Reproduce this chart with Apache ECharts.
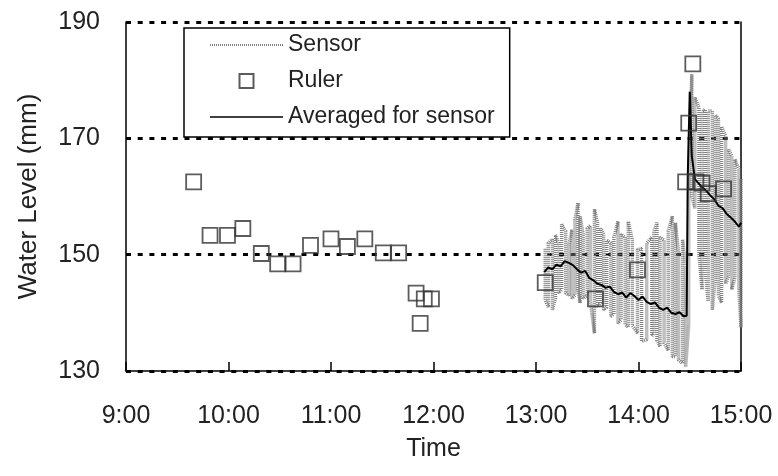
<!DOCTYPE html>
<html>
<head>
<meta charset="utf-8">
<script src="https://cdn.jsdelivr.net/npm/echarts@6/dist/echarts.min.js"></script>
<style>
  html, body { margin: 0; padding: 0; background: #fff; }
  #chart { width: 778px; height: 476px; }
</style>
</head>
<body>
<div id="chart"></div>
<script>
// time in hours (9.5 = 9:30)
var xTicks = [9, 10, 11, 12, 13, 14, 15];
var yTicks = [130, 150, 170, 190];

// ruler readings
var rulerTime = [9.66, 9.82, 9.99, 10.14, 10.32, 10.48, 10.63, 10.80, 11.00, 11.16, 11.33, 11.51, 11.66, 11.83, 11.87, 11.91, 11.98,
  13.09, 13.58, 13.99, 14.46, 14.49, 14.53, 14.56, 14.62, 14.68, 14.83];
var rulerLevel = [162.5, 153.3, 153.3, 154.5, 150.2, 148.4, 148.4, 151.6, 152.7, 151.4, 152.7, 150.3, 150.3, 143.4, 138.2, 142.4, 142.4,
  145.2, 142.4, 147.4, 162.5, 172.6, 182.8, 162.5, 162.3, 160.5, 161.3];

// raw sensor, high / low of each swing
var sensorTime = [13.09, 13.12, 13.16, 13.19, 13.22, 13.25, 13.29, 13.32, 13.35, 13.38, 13.41, 13.43, 13.46, 13.50, 13.53,
  13.57, 13.60, 13.63, 13.66, 13.69, 13.73, 13.76, 13.80, 13.83, 13.87, 13.90, 13.94, 13.99, 14.03, 14.08,
  14.13, 14.15, 14.18, 14.21, 14.25, 14.29, 14.33, 14.36, 14.39, 14.43, 14.46, 14.49, 14.52, 14.55, 14.59,
  14.62, 14.65, 14.68, 14.72, 14.75, 14.78, 14.81, 14.85, 14.88, 14.91, 14.94, 14.98, 15.00];
var sensorHigh = [151, 152, 152.6, 153.4, 152, 155.2, 154, 151.5, 154.3, 156, 158.9, 156.6, 153.5, 154.5, 155,
  157.8, 155.5, 154.5, 153.5, 152.5, 152, 153, 155.7, 153.5, 153, 155.7, 152.5, 150.9, 151, 152,
  153, 154, 155.5, 153, 152.5, 154, 156.6, 155.5, 150.5, 152.6, 148, 165, 181, 177, 175.3,
  174.5, 175, 174.7, 174.7, 174, 173.3, 172, 170.4, 168.1, 167, 166.4, 164.7, 163];
var sensorLow = [142.2, 141, 140.5, 142.5, 143.4, 144, 143.4, 143, 142.5, 143, 144, 141.7, 142.5, 143, 142,
  136.5, 141, 141.7, 140.5, 141, 139.4, 139.8, 138.2, 138.8, 138, 137.5, 137.8, 136.5, 135.1, 135.4,
  136, 136.5, 135.3, 134.2, 134.8, 133.5, 132.5, 132.5, 131.9, 131.3, 130.7, 138, 160, 158, 150,
  144, 147.4, 142, 140.5, 146, 143, 141.7, 145, 146.3, 144, 146, 144, 137.5];

// averaged sensor
var avgTime = [13.08, 13.12, 13.16, 13.20, 13.24, 13.28, 13.32, 13.36, 13.40, 13.44, 13.48, 13.52, 13.56, 13.60, 13.64,
  13.68, 13.72, 13.76, 13.80, 13.84, 13.88, 13.92, 13.96, 14.00, 14.04, 14.08, 14.12, 14.16, 14.20, 14.24,
  14.28, 14.32, 14.36, 14.40, 14.44, 14.47, 14.48, 14.50, 14.52, 14.55, 14.58, 14.62, 14.66, 14.70, 14.74,
  14.78, 14.82, 14.86, 14.90, 14.94, 14.98, 15.00];
var avgLevel = [147.0, 147.8, 147.5, 148.3, 148.0, 148.9, 148.6, 148.2, 147.5, 146.9, 147.2, 146.0, 145.6, 145.0, 144.8,
  144.3, 144.5, 143.6, 143.2, 143.5, 142.6, 143.4, 142.9, 142.2, 142.8, 141.9, 141.5, 141.8, 140.9, 140.5,
  140.9, 140.0, 139.8, 140.1, 139.4, 139.5, 163.0, 178.0, 167.0, 163.0, 162.4, 161.6, 161.0, 160.2, 159.5,
  158.4, 158.0, 157.0, 156.4, 155.7, 154.8, 155.5];

var FONT = "'Liberation Sans', Arial, sans-serif";

// zigzag between high and low so each swing is a vertical stroke
var sensorData = [];
for (var i = 0; i < sensorTime.length; i++) {
  if (i % 2 == 0) {
    sensorData.push([sensorTime[i], sensorHigh[i]]);
    sensorData.push([sensorTime[i], sensorLow[i]]);
  } else {
    sensorData.push([sensorTime[i], sensorLow[i]]);
    sensorData.push([sensorTime[i], sensorHigh[i]]);
  }
}
var rulerData = rulerTime.map(function (t, i) { return [t, rulerLevel[i]]; });
var avgData = avgTime.map(function (t, i) { return [t, avgLevel[i]]; });

// legend icons: dotted line, square, solid line
var dotIcon = 'path://';
for (var k = 0; k < 73; k += 2) {
  dotIcon += 'M' + k + ',0h1v1.5h-1z';
}
var squareIcon = 'path://M0,0h1v1h-1z';
var lineIcon = 'path://M0,0h73v1.3h-73z';

var chart = echarts.init(document.getElementById('chart'));
var option = {
  animation: false,
  backgroundColor: '#fff',
  grid: { left: 126, right: 37, top: 22, bottom: 105 },
  legend: {
    orient: 'vertical',
    left: 184,
    top: 28,
    data: [
      { name: 'Sensor', icon: dotIcon, itemStyle: { color: '#555', borderWidth: 0 } },
      { name: 'Ruler', icon: squareIcon },
      { name: 'Averaged for sensor', icon: lineIcon, itemStyle: { color: '#000', borderWidth: 0 } }
    ],
    symbolKeepAspect: true,
    backgroundColor: '#fff',
    borderColor: '#000',
    borderWidth: 1.5,
    borderRadius: 0,
    padding: [4, 15, 7, 26],
    itemWidth: 73,
    itemHeight: 14,
    itemGap: 10,
    textStyle: { fontFamily: FONT, fontSize: 23, lineHeight: 26, color: '#222' }
  },
  xAxis: {
    type: 'value',
    min: xTicks[0],
    max: xTicks[xTicks.length - 1],
    interval: 1,
    name: 'Time',
    nameLocation: 'middle',
    nameGap: 66,
    nameTextStyle: { fontFamily: FONT, fontSize: 25, color: '#222' },
    axisLine: { lineStyle: { color: '#000', width: 1.5 } },
    axisTick: { inside: true, length: 9, lineStyle: { color: '#000', width: 1.5 } },
    axisLabel: {
      margin: 33,
      fontFamily: FONT, fontSize: 25, color: '#222',
      formatter: function (v) { return v + ':00'; }
    },
    splitLine: { show: false }
  },
  yAxis: [{
    type: 'value',
    min: yTicks[0],
    max: yTicks[yTicks.length - 1],
    interval: 20,
    name: 'Water Level (mm)',
    nameLocation: 'middle',
    nameGap: 84,
    nameTextStyle: { fontFamily: FONT, fontSize: 26, color: '#222' },
    axisLine: { show: true, lineStyle: { color: '#000', width: 1.5 } },
    axisTick: { show: true, inside: true, length: 5, lineStyle: { color: '#000', width: 1.5 } },
    axisLabel: { margin: 26, fontFamily: FONT, fontSize: 25, color: '#222' },
    splitLine: { show: true, lineStyle: { color: '#000', width: 3, type: [5, 6.7] } }
  }, {
    type: 'value',
    position: 'right',
    min: yTicks[0],
    max: yTicks[yTicks.length - 1],
    interval: 20,
    axisLine: { show: true, lineStyle: { color: '#000', width: 1.5 } },
    axisTick: { show: false },
    axisLabel: { show: false },
    splitLine: { show: false }
  }],
  series: [{
    name: 'Sensor',
    type: 'line',
    data: sensorData,
    symbol: 'none',
    z: 2,
    lineStyle: { color: '#808080', width: 3.5, type: [1, 1] },
    itemStyle: { color: '#808080' }
  }, {
    name: 'Ruler',
    type: 'scatter',
    data: rulerData,
    symbol: 'rect',
    symbolSize: 15,
    z: 4,
    itemStyle: { color: 'rgba(255,255,255,0)', borderColor: '#333', borderWidth: 1.8 }
  }, {
    name: 'Averaged for sensor',
    type: 'line',
    data: avgData,
    symbol: 'none',
    z: 3,
    lineStyle: { color: '#000', width: 2 },
    itemStyle: { color: '#000' }
  }]
};
chart.setOption(option);
</script>
</body>
</html>
